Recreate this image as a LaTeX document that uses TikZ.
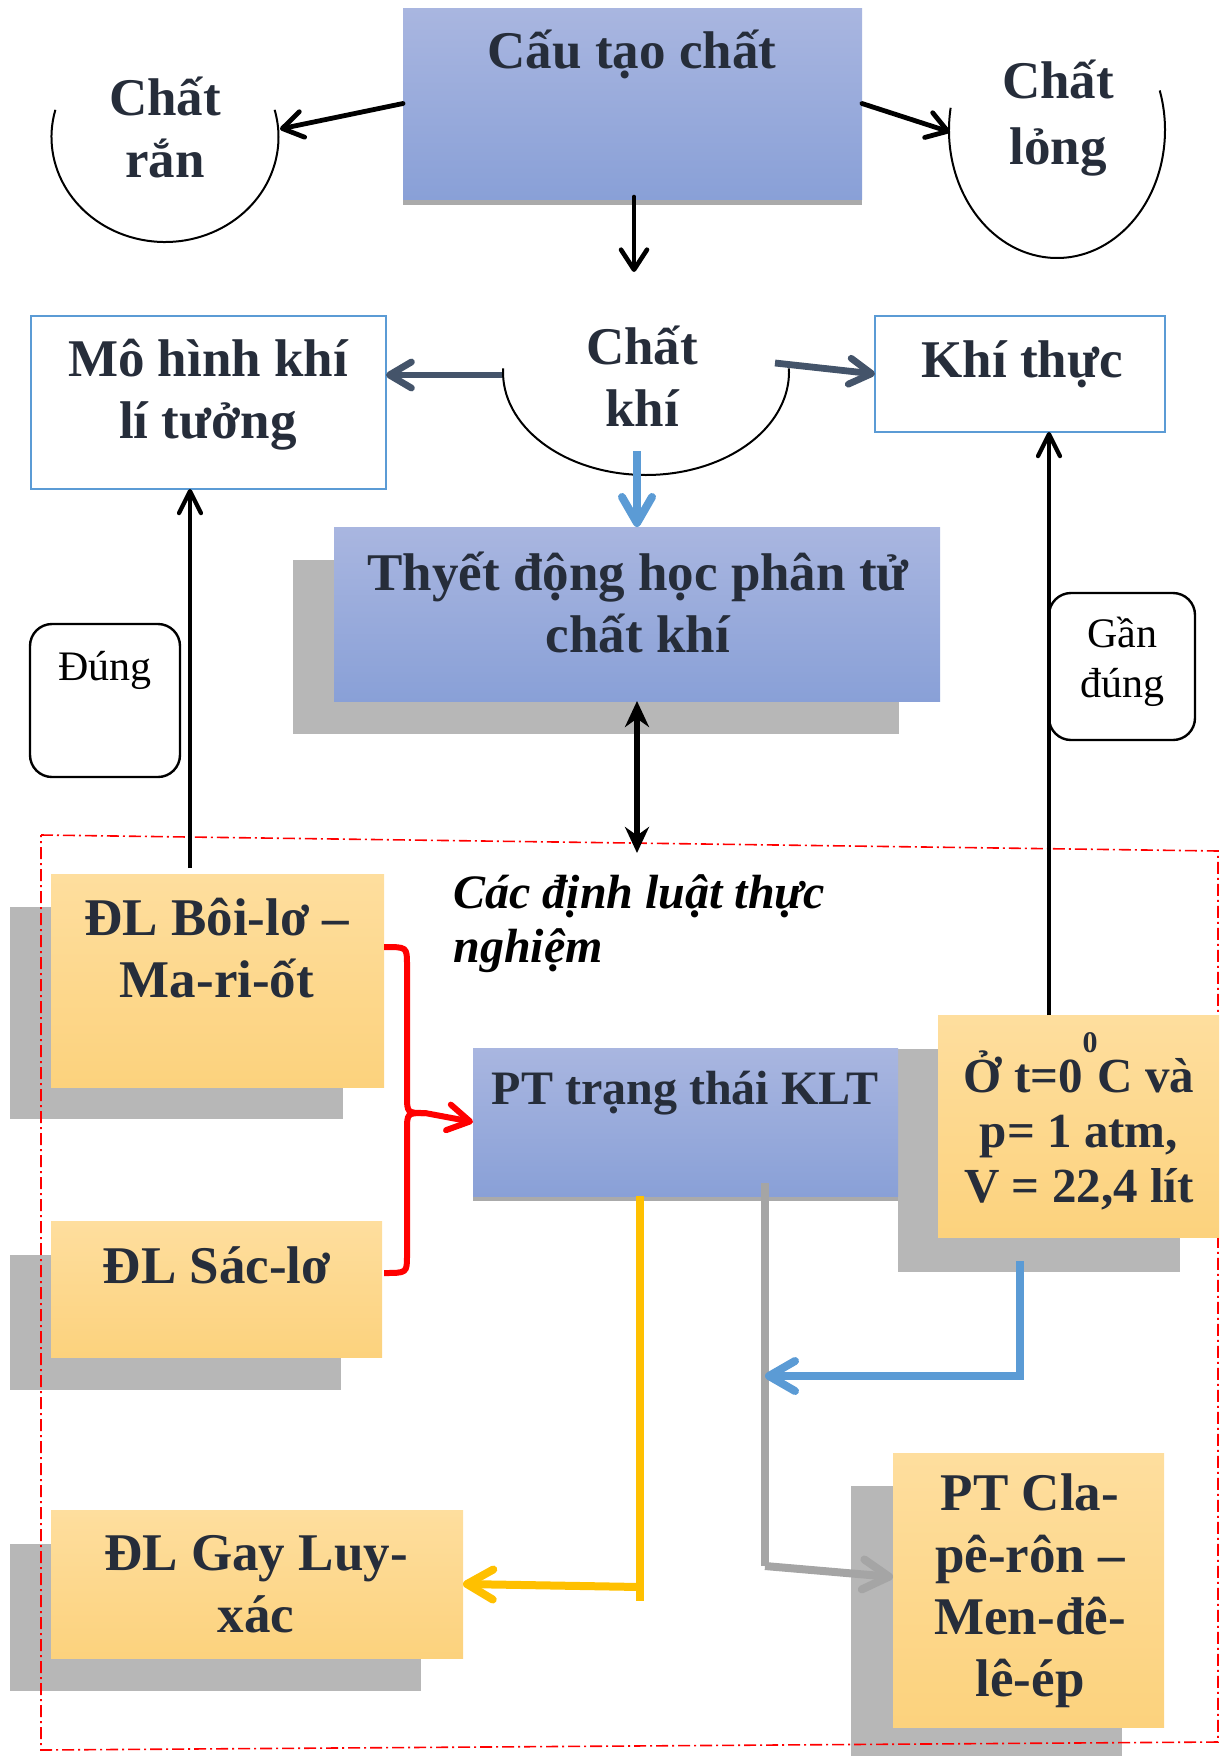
\documentclass[tikz,border=0pt]{standalone}
\usepackage{fontspec}
\setmainfont{Liberation Serif}
\usetikzlibrary{arrows.meta}
\definecolor{txt}{RGB}{38,45,58}
\definecolor{bluetop}{RGB}{169,182,224}
\definecolor{bluebot}{RGB}{137,160,215}
\definecolor{ortop}{RGB}{254,222,158}
\definecolor{orbot}{RGB}{252,210,125}
\definecolor{shadowgray}{RGB}{183,183,183}
\definecolor{stripgray}{RGB}{170,170,170}
\definecolor{msblue}{RGB}{91,155,213}
\definecolor{slate}{RGB}{68,84,106}
\definecolor{gold}{RGB}{255,192,0}
\definecolor{midgray}{RGB}{165,165,165}
\begin{document}
\begin{tikzpicture}[x=0.5pt,y=-0.5pt,
  bluebox/.style={rectangle,inner sep=0,outer sep=0,top color=bluetop,bottom color=bluebot,draw=none},
  orbox/.style={rectangle,inner sep=0,outer sep=0,top color=ortop,bottom color=orbot,draw=none},
  linebox/.style={rectangle,inner sep=0,outer sep=0,draw=msblue,line width=1.2pt,fill=white},
  roundbox/.style={rectangle,rounded corners=11pt,inner sep=0,outer sep=0,draw=black,line width=1.2pt,fill=white},
  lbl/.style={font=\fontsize{26.5}{31}\selectfont\bfseries,text=txt,align=center,inner sep=0},
  lblit/.style={font=\fontsize{24}{27}\selectfont\bfseries\itshape,text=black,align=left,inner sep=0},
  small/.style={font=\fontsize{21}{25}\selectfont,text=black,align=center,inner sep=0},
  arcline/.style={line width=1pt,black},
  bigblack/.style={line width=2.4pt,black,line cap=round,-{Straight Barb[round,length=10pt,width=13pt]}},
  thinblack/.style={line width=2.1pt,black,-{Straight Barb[round,length=11pt,width=11pt]}},
  colarrow/.style={line width=4pt,-{Straight Barb[round,length=13pt,width=15pt]}},
  dbl/.style={line width=3pt,black,{Stealth[length=13pt,width=12pt]}-{Stealth[length=13pt,width=12pt]}}
]
\useasboundingbox (0,0) rectangle (1226,1756);
% shadows
\fill[shadowgray] (293,560) rectangle (899,734);
\fill[shadowgray] (10,907) rectangle (343,1119);
\fill[shadowgray] (10,1255) rectangle (341,1390);
\fill[shadowgray] (898,1049) rectangle (1180,1272);
\fill[shadowgray] (10,1544) rectangle (421,1691);
\fill[shadowgray] (851,1486) rectangle (1122,1756);
\fill[stripgray] (403,199) rectangle (862,205);
\fill[stripgray] (473,1196) rectangle (898,1201);
% region
\draw[red,line width=0.8pt,dash pattern=on 6pt off 2pt on 1pt off 2pt] (41,835) -- (1218,851) -- (1218,1742) -- (41,1750) -- cycle;
% boxes
\node[bluebox,minimum width=229.5pt,minimum height=95.5pt] (cautao) at (632.5,103.5) {};
\node[bluebox,minimum width=303pt,minimum height=87pt] (thuyet) at (637,614) {};
\node[bluebox,minimum width=212.5pt,minimum height=74pt] (pt) at (685.5,1122) {};
\node[orbox,minimum width=166.5pt,minimum height=106.5pt] (boilo) at (217.5,980.5) {};
\node[orbox,minimum width=165.5pt,minimum height=68pt] (saclo) at (216.5,1289) {};
\node[orbox,minimum width=140.5pt,minimum height=111pt] (dkc) at (1078.5,1126) {};
\node[orbox,minimum width=206pt,minimum height=74pt] (gay) at (257,1584) {};
\node[orbox,minimum width=135.5pt,minimum height=137pt] (cla) at (1028.5,1590) {};
\node[linebox,minimum width=177.5pt,minimum height=86.5pt] (mohinh) at (208.5,402.5) {};
\node[linebox,minimum width=145pt,minimum height=58pt] (khithuc) at (1020,374) {};
\node[roundbox,minimum width=75pt,minimum height=76.5pt] (dung) at (105,700.5) {};
\node[roundbox,minimum width=73pt,minimum height=73.5pt] (gandung) at (1122,666.5) {};
% arcs (centres: ran (165,137), long (1057,130), khi (646,372))
\draw[arcline] (165,137) ++(165:56.75pt and 52.5pt) arc[start angle=165,end angle=375,x radius=56.75pt,y radius=52.5pt];
\draw[arcline] (1057,130) ++(170:54pt and 64pt) arc[start angle=170,end angle=378,x radius=54pt,y radius=64pt];
\draw[arcline] (646,372) ++(178:71.5pt and 51.5pt) arc[start angle=178,end angle=362,x radius=71.5pt,y radius=51.5pt];
\coordinate (ranR) at (280,129);
\coordinate (longL) at (950,132);
\coordinate (khiTop) at (634,272);
\coordinate (khiL) at (502,375);
\coordinate (khiR) at (775,363);
\coordinate (khiB) at (637,451);
\coordinate (regTop) at (637,853);
% texts
\node[lbl] (tcautao) at (632,54) {Cấu tạo chất};
\node[lbl] (tran) at (165,127) {Chất\\rắn};
\node[lbl,font=\fontsize{26.5}{33}\selectfont\bfseries] (tlong) at (1058,118) {Chất\\lỏng};
\node[lbl] (tkhi) at (642,376) {Chất\\khí};
\node[lbl] (tmohinh) at (208,395) {Mô hình khí\\lí tưởng};
\node[lbl] (tkhithuc) at (1022,364) {Khí thực};
\node[lbl] (tthuyet) at (638,602) {Thyết động học phân tử\\chất khí};
\node[small] (tdung) at (105,670) {Đúng};
\node[small] (tgandung) at (1122,662) {Gần\\đúng};
\node[lblit,anchor=west] (tcac) at (453,924) {Các định luật thực\\nghiệm};
\node[lbl] (tboilo) at (217,948) {ĐL Bôi-lơ –\\Ma-ri-ốt};
\node[lbl] (tsaclo) at (217,1265) {ĐL Sác-lơ};
\node[lbl,font=\fontsize{24}{28}\selectfont\bfseries] (tpt) at (685,1093) {PT trạng thái KLT};
\node[lbl,font=\fontsize{24.5}{27.5}\selectfont\bfseries] (tdkc) at (1079,1121) {Ở t=0\raisebox{20pt}{\fontsize{15}{15}\selectfont 0}C và\\p= 1 atm,\\V = 22,4 lít};
\node[lbl] (tgay) at (256,1584) {ĐL Gay Luy-\\xác};
\node[lbl] (tcla) at (1030,1591) {PT Cla-\\pê-rôn –\\Men-đê-\\lê-ép};
% connectors
\draw[bigblack] (cautao.west) -- (ranR);
\draw[bigblack] (cautao.east) -- (longL);
\draw[bigblack,line width=2.3pt] ([yshift=1pt]cautao.south -| khiTop) -- (khiTop);
\draw[colarrow,slate,line width=3.4pt,-{Straight Barb[round,length=11pt,width=13pt]}] (khiL) -- (khiL -| mohinh.east);
\draw[colarrow,slate,line width=3.4pt,-{Straight Barb[round,length=11pt,width=13pt]}] (khiR) -- (khithuc.west);
\draw[colarrow,msblue] (khiB) -- (thuyet.north);
\draw[dbl] (thuyet.south) -- (regTop);
\draw[thinblack] ([xshift=-13.75pt,yshift=3pt]boilo.north) -- ([xshift=-13.75pt]boilo.north |- mohinh.south);
\draw[thinblack] ([xshift=-14.75pt]dkc.north) -- ([xshift=-14.75pt]dkc.north |- khithuc.south);
\coordinate (rb1) at (384,947);
\coordinate (rb2) at (384,1273);
\draw[red,colarrow,line width=3pt,-{Straight Barb[round,length=11pt,width=13pt]}] (rb1) .. controls (407,947) .. (407,965) -- (407,1095) .. controls (407,1113) .. (425,1113) -- (pt.west);
\draw[red,line width=3pt] (rb2) .. controls (407,1273) .. (407,1255) -- (407,1131) .. controls (407,1113) .. (425,1113);
\coordinate (yv) at (640,1601);
\coordinate (yh) at (640,1587);
\draw[gold,line width=4pt] (pt.south -| yv) -- (yv);
\draw[gold,colarrow] (yh) -- (gay.east);
\coordinate (gv1) at (765,1183);
\coordinate (gv2) at (765,1566);
\draw[midgray,line width=4pt] (gv1) -- (gv2);
\draw[midgray,colarrow] (gv2) -- ([yshift=6.5pt]cla.west);
\coordinate (bs) at (1020,1261);
\coordinate (bb) at (1020,1376);
\draw[msblue,colarrow] (bs) -- (bb) -- (bb -| gv1);
\end{tikzpicture}
\end{document}
